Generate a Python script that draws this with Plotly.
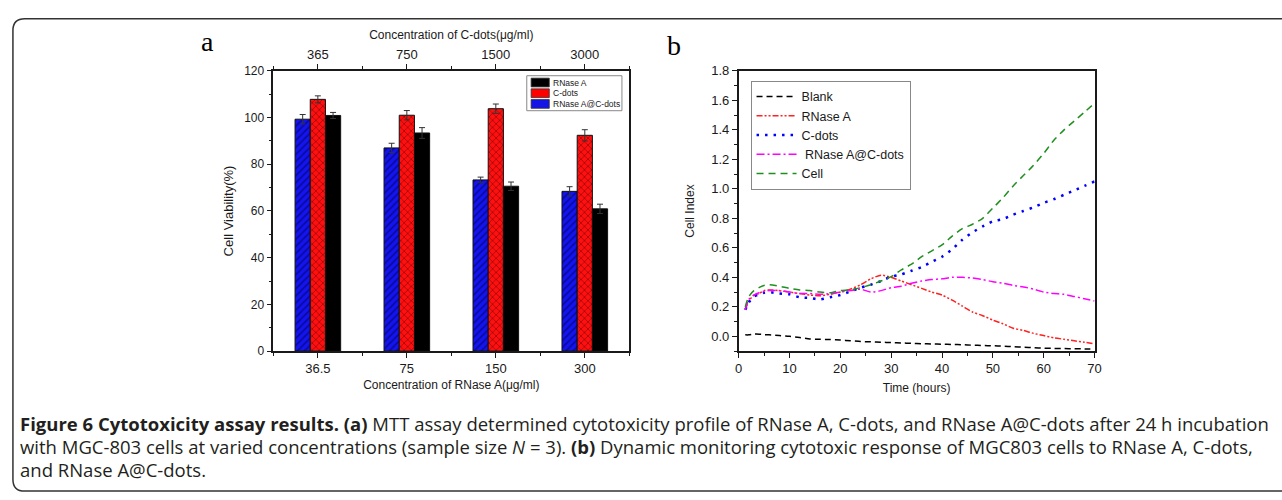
import plotly.graph_objects as go

# ---------------- Panel a data ----------------
rnase_conc = ["36.5", "75", "150", "300"]          # bottom axis (µg/ml)
cdots_conc = ["365", "750", "1500", "3000"]        # top axis (µg/ml)
bar_names = ["RNase A@C-dots", "C-dots", "RNase A"]
bar_colors = ["#1414e6", "#ff0000", "#000000"]
combo_vals = [99.3, 87.0, 73.3, 68.4]              # RNase A@C-dots
combo_err = [2.0, 2.0, 1.2, 2.0]
cdots_vals = [107.8, 101.0, 103.8, 92.4]           # C-dots
cdots_err = [1.5, 2.0, 2.0, 2.4]
rnase_vals = [100.9, 93.4, 70.6, 60.9]             # RNase A
rnase_err = [1.3, 2.3, 1.8, 2.0]
a_yticks = [0, 20, 40, 60, 80, 100, 120]

# ---------------- Panel b data ----------------
time_h = [1.3, 2, 3, 4, 5, 6, 8, 10, 12, 14, 16, 18, 20, 22, 24, 26, 28, 30, 32, 34,
          36, 38, 40, 42, 44, 46, 48, 50, 52, 54, 56, 58, 60, 62, 64, 66, 68, 70]
blank = [0.01, 0.01, 0.015, 0.015, 0.012, 0.01, 0.005, 0.0, -0.008, -0.018, -0.02, -0.022,
         -0.025, -0.03, -0.035, -0.037, -0.04, -0.042, -0.045, -0.047, -0.05, -0.052, -0.053,
         -0.055, -0.057, -0.06, -0.062, -0.064, -0.067, -0.07, -0.074, -0.077, -0.08, -0.082,
         -0.083, -0.084, -0.085, -0.086]
rnase_ci = [0.18, 0.24, 0.28, 0.29, 0.31, 0.315, 0.31, 0.30, 0.29, 0.28, 0.275, 0.285, 0.30,
            0.32, 0.35, 0.39, 0.415, 0.40, 0.375, 0.35, 0.325, 0.30, 0.28, 0.245, 0.205, 0.165,
            0.14, 0.11, 0.085, 0.055, 0.04, 0.02, 0.005, -0.01, -0.02, -0.03, -0.04, -0.05]
cdots_ci = [0.18, 0.23, 0.27, 0.285, 0.295, 0.30, 0.29, 0.285, 0.265, 0.26, 0.25, 0.265, 0.28,
            0.305, 0.33, 0.35, 0.375, 0.405, 0.42, 0.445, 0.47, 0.505, 0.54, 0.59, 0.655, 0.705,
            0.745, 0.78, 0.795, 0.825, 0.85, 0.875, 0.905, 0.93, 0.96, 0.99, 1.02, 1.05]
combo_ci = [0.18, 0.25, 0.28, 0.295, 0.305, 0.31, 0.31, 0.30, 0.29, 0.29, 0.285, 0.29, 0.30,
            0.31, 0.32, 0.30, 0.31, 0.33, 0.34, 0.36, 0.375, 0.385, 0.39, 0.40, 0.40, 0.395,
            0.385, 0.37, 0.36, 0.345, 0.335, 0.32, 0.30, 0.29, 0.285, 0.27, 0.255, 0.24]
cell_ci = [0.2, 0.27, 0.31, 0.33, 0.345, 0.35, 0.34, 0.325, 0.315, 0.31, 0.30, 0.295, 0.31,
           0.315, 0.33, 0.35, 0.375, 0.405, 0.45, 0.49, 0.54, 0.58, 0.62, 0.68, 0.73, 0.76,
           0.80, 0.87, 0.94, 1.02, 1.09, 1.16, 1.24, 1.33, 1.40, 1.46, 1.52, 1.58]

W, H = 1282, 500
FONT = "Liberation Sans, Arial, sans-serif"
AX = "#1a1a1a"

def px(x):
    return x / W

def py(y):
    return 1 - y / H

idx = list(range(len(rnase_conc)))

fig = go.Figure()

bar_common = dict(xaxis="x", yaxis="y", showlegend=False,
                  marker_line=dict(color="#111", width=1))
err_style = dict(type="data", color="#333", thickness=1, width=3, visible=True)

fig.add_trace(go.Bar(
    x=idx, y=combo_vals, name=bar_names[0],
    error_y=dict(array=combo_err, **err_style),
    marker=dict(color=bar_colors[0],
                pattern=dict(shape="/", fgcolor="#000050", bgcolor="#1414f0",
                             size=5, solidity=0.35)),
    **bar_common))
fig.add_trace(go.Bar(
    x=idx, y=cdots_vals, name=bar_names[1],
    error_y=dict(array=cdots_err, **err_style),
    marker=dict(color=bar_colors[1],
                pattern=dict(shape="x", fgcolor="#400000", bgcolor="#ff1010",
                             size=5, solidity=0.3)),
    **bar_common))
fig.add_trace(go.Bar(
    x=idx, y=rnase_vals, name=bar_names[2],
    error_y=dict(array=rnase_err, **err_style),
    marker=dict(color=bar_colors[2]),
    **bar_common))

# invisible trace so that the top (C-dots) axis is drawn
fig.add_trace(go.Scatter(x=idx, y=cdots_vals, xaxis="x2", yaxis="y", mode="markers",
                         marker=dict(opacity=0), showlegend=False, hoverinfo="skip"))

# Panel b lines
line_specs = [
    ("Blank", blank, "#000000", "6px,4px", 1.5),
    ("RNase A", rnase_ci, "#ff2020", "6px,2px,2px,2px,2px,2px", 1.5),
    ("C-dots", cdots_ci, "#0000ff", "2.5px,6px", 2.5),
    (" RNase A@C-dots", combo_ci, "#ff00ff", "8px,3px,2px,3px", 1.5),
    ("Cell", cell_ci, "#1f8f1f", "7px,5px", 1.5),
]
for name, vals, col, dash, wdt in line_specs:
    fig.add_trace(go.Scatter(x=time_h, y=vals, name=name, mode="lines",
                             line=dict(color=col, dash=dash, width=wdt, shape="spline",
                                       smoothing=0.6),
                             xaxis="x3", yaxis="y3", legend="legend2"))

a_dom_x = [px(271.7), px(630.7)]
b_dom_x = [px(741), px(1100)]
dom_y = [py(354), py(65.7)]

tickfont = dict(family=FONT, size=12, color=AX)
titlefont = dict(family=FONT, size=12, color=AX)

fig.update_layout(
    width=W, height=H,
    margin=dict(l=0, r=0, t=0, b=0),
    paper_bgcolor="white", plot_bgcolor="white",
    barmode="group", bargap=0.4875, bargroupgap=0,
    xaxis=dict(domain=a_dom_x, anchor="y", range=[-0.5, 3.5],
               tickmode="array", tickvals=idx, ticktext=rnase_conc,
               showline=True, linecolor=AX, linewidth=1.5,
               ticks="outside", ticklen=5, tickcolor=AX, tickwidth=1,
               minor=dict(tickmode="linear", tick0=0.5, dtick=1, ticks="outside",
                          ticklen=3, tickcolor=AX),
               showgrid=False, zeroline=False, tickfont=dict(family=FONT, size=13, color=AX),
               title=dict(text="Concentration of RNase A(μg/ml)", font=titlefont, standoff=5)),
    xaxis2=dict(domain=a_dom_x, anchor="y", overlaying="x", side="top", range=[-0.5, 3.5],
                tickmode="array", tickvals=idx, ticktext=cdots_conc,
                showline=True, linecolor=AX, linewidth=1.5,
                ticks="outside", ticklen=5, tickcolor=AX, tickwidth=1,
                minor=dict(tickmode="linear", tick0=0.5, dtick=1, ticks="outside",
                           ticklen=3, tickcolor=AX),
                showgrid=False, zeroline=False, tickfont=dict(family=FONT, size=13, color=AX),
                title=dict(text="Concentration of C-dots(μg/ml)", font=titlefont, standoff=5)),
    yaxis=dict(domain=dom_y, anchor="x", range=[0, 120],
               tickmode="array", tickvals=a_yticks,
               showline=True, mirror=True, linecolor=AX, linewidth=1.5,
               ticks="outside", ticklen=5, tickcolor=AX, tickwidth=1,
               minor=dict(tickmode="linear", tick0=10, dtick=20, ticks="outside",
                          ticklen=3, tickcolor=AX),
               showgrid=False, zeroline=False, tickfont=tickfont,
               title=dict(text="Cell Viability(%)", font=dict(family=FONT, size=13, color=AX),
                          standoff=8)),
    xaxis3=dict(domain=b_dom_x, anchor="y3", range=[0, 70],
                tickmode="linear", tick0=0, dtick=10,
                showline=True, mirror=True, linecolor=AX, linewidth=1.5,
                ticks="outside", ticklen=5, tickcolor=AX, tickwidth=1,
                minor=dict(tickmode="linear", tick0=5, dtick=10, ticks="outside",
                           ticklen=3, tickcolor=AX),
                showgrid=False, zeroline=False, tickfont=dict(family=FONT, size=13, color=AX),
                title=dict(text="Time (hours)", font=titlefont, standoff=8)),
    yaxis3=dict(domain=dom_y, anchor="x3", range=[-0.1, 1.8],
                tickmode="linear", tick0=0, dtick=0.2, tickformat=".1f",
                showline=True, mirror=True, linecolor=AX, linewidth=1.5,
                ticks="outside", ticklen=5, tickcolor=AX, tickwidth=1,
                minor=dict(tickmode="linear", tick0=0.1, dtick=0.2, ticks="outside",
                           ticklen=3, tickcolor=AX),
                showgrid=False, zeroline=False, tickfont=dict(family=FONT, size=13, color=AX),
                title=dict(text="Cell Index", font=titlefont, standoff=14)),
    legend2=dict(x=px(753), y=py(76), xanchor="left", yanchor="top",
                 traceorder="normal", bgcolor="white", bordercolor="#888", borderwidth=1,
                 font=dict(family=FONT, size=12.5, color=AX), itemwidth=40),
    showlegend=True,
)

# compact legend for panel a (swatch + label for each bar series, top entry = RNase A)
lx0, ly0, lx1, ly1 = 527.3, 70.7, 623.3, 106.7
fig.add_shape(type="rect", xref="paper", yref="paper",
              x0=px(lx0), x1=px(lx1), y0=py(ly1), y1=py(ly0),
              line=dict(color="#888", width=1), fillcolor="white")
for k, (nm, col) in enumerate(zip(bar_names[::-1], bar_colors[::-1])):
    top = 72.7 + 11 * k
    fig.add_shape(type="rect", xref="paper", yref="paper",
                  x0=px(531.7), x1=px(550), y0=py(top + 9.5), y1=py(top + 0.5),
                  line=dict(color="#333", width=0.8), fillcolor=col)
    fig.add_annotation(text=nm, x=px(552), y=py(top + 5), xref="paper", yref="paper",
                       xanchor="left", yanchor="middle", showarrow=False,
                       font=dict(family=FONT, size=8.5, color=AX))

# panel letters
fig.add_annotation(text="a", x=px(205.7), y=py(35), xref="paper", yref="paper",
                   xanchor="center", yanchor="middle", showarrow=False,
                   font=dict(family="Liberation Serif, Times New Roman, serif",
                             size=28, color="#000"))
fig.add_annotation(text="b", x=px(676), y=py(40), xref="paper", yref="paper",
                   xanchor="center", yanchor="middle", showarrow=False,
                   font=dict(family="Liberation Serif, Times New Roman, serif",
                             size=28, color="#000"))

# caption
caption_lines = [
    "<b>Figure 6 Cytotoxicity assay results. (a)</b> MTT assay determined cytotoxicity profile of "
    "RNase A, C-dots, and RNase A@C-dots after 24 h incubation",
    "with MGC-803 cells at varied concentrations (sample size <i>N</i> = 3). <b>(b)</b> Dynamic "
    "monitoring cytotoxic response of MGC803 cells to RNase A, C-dots,",
    "and RNase A@C-dots.",
]
for i, line in enumerate(caption_lines):
    fig.add_annotation(text=line, x=px(14), y=py(428 + 24 * i), xref="paper", yref="paper",
                       xanchor="left", yanchor="middle", showarrow=False, align="left",
                       font=dict(family="Open Sans, sans-serif", size=18.5, color="#231f20"))

# rounded frame (left, top, bottom visible)
r = 12
x0, y0, x1, y1 = 9, 12, 1290, 498
path = (f"M {px(x1)},{py(y0)} L {px(x0 + r)},{py(y0)} "
        f"Q {px(x0)},{py(y0)} {px(x0)},{py(y0 + r)} "
        f"L {px(x0)},{py(y1 - r)} Q {px(x0)},{py(y1)} {px(x0 + r)},{py(y1)} "
        f"L {px(x1)},{py(y1)}")
fig.add_shape(type="path", path=path, xref="paper", yref="paper",
              line=dict(color="#333", width=1.5))

fig.write_html("out.html")
